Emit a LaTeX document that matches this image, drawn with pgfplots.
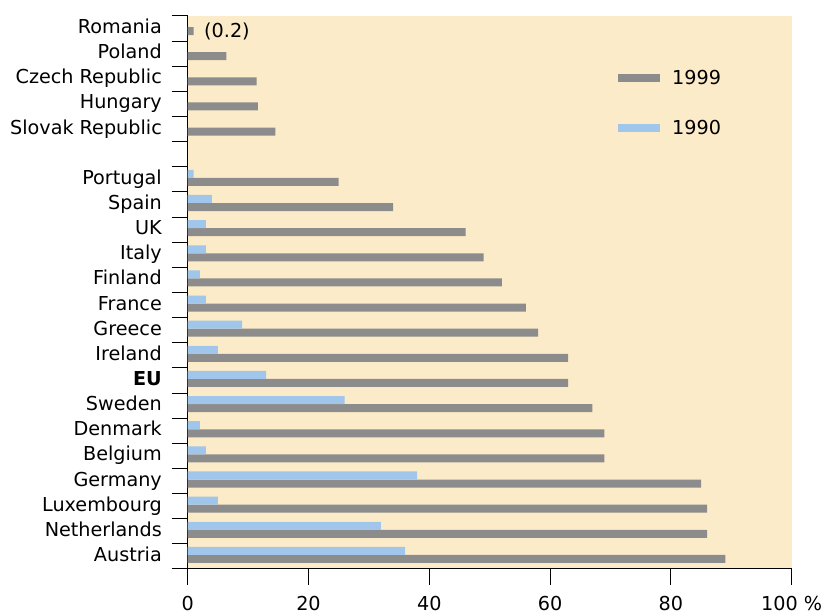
\documentclass[border=0pt]{standalone}
\usepackage{pgfplots}
\pgfplotsset{compat=1.18}
\usepackage{fontspec}
\setmainfont{DejaVu Sans}
\definecolor{bgc}{RGB}{252,235,200}
\definecolor{barg}{RGB}{140,140,140}
\definecolor{barb}{RGB}{160,198,236}
\begin{document}
\begin{tikzpicture}
\useasboundingbox (0,0) rectangle (824pt,615pt);
\begin{axis}[
  at={(187.7pt,46pt)}, anchor=south west,
  scale only axis, width=604pt, height=553pt,
  xmin=0, xmax=100, ymin=0, ymax=22,
  axis background/.style={fill=bgc},
  axis x line*=bottom, axis y line*=left,
  axis line style={line width=1pt, -},
  tick style={line width=1pt, black},
  tick align=outside, major tick length=16pt,
  xtick={0,20,40,60,80,100},
  xticklabels={0,20,40,60,80,100 \%},
  xticklabel style={inner sep=0pt, anchor=north, yshift=-11pt},
  ytick={0,1,...,22}, yticklabels={},
  extra y ticks={0.3,1.3,2.3,3.3,4.3,5.3,6.3,7.3,8.3,9.3,10.3,11.3,12.3,13.3,14.3,15.3,17.3,18.3,19.3,20.3,21.3},
  extra y tick labels={Austria,Netherlands,Luxembourg,Germany,Belgium,Denmark,Sweden,\textbf{EU},Ireland,Greece,France,Finland,Italy,UK,Spain,Portugal,Slovak Republic,Hungary,Czech Republic,Poland,Romania},
  extra y tick style={tick style={draw=none}, yticklabel style={anchor=base east, inner sep=0pt, xshift=-9.7pt}},
  font=\fontsize{19.2pt}{23pt}\selectfont,
  xbar, bar width=0.318, bar shift=0pt,
  legend style={at={(axis description cs:0.7124,0.843)}, anchor=west, draw=none, fill=none, inner sep=0pt,
    row sep=34pt, column sep=12pt, nodes={inner sep=0pt}, legend cell align=left},
  legend image code/.code={\fill (0pt,-4pt) rectangle (42pt,4pt);},
]
\addplot[fill=barg, draw=none] coordinates {
(89,0.4) (86,1.4) (86,2.4) (85,3.4) (69,4.4) (69,5.4) (67,6.4) (63,7.4) (63,8.4) (58,9.4) (56,10.4) (52,11.4) (49,12.4) (46,13.4) (34,14.4) (25,15.4) (14.5,17.4) (11.6,18.4) (11.4,19.4) (6.4,20.4) (1,21.4)
};
\addplot[fill=barb, draw=none] coordinates {
(36,0.72) (32,1.72) (5,2.72) (38,3.72) (3,4.72) (2,5.72) (26,6.72) (13,7.72) (5,8.72) (9,9.72) (3,10.72) (2,11.72) (3,12.72) (3,13.72) (4,14.72) (1,15.72)
};
\legend{1999,1990}
\node[anchor=west, inner sep=0pt, font=\fontsize{19.2pt}{23pt}\selectfont] at (axis cs:2.7,21.38) {(0.2)};
\end{axis}
\end{tikzpicture}
\end{document}
